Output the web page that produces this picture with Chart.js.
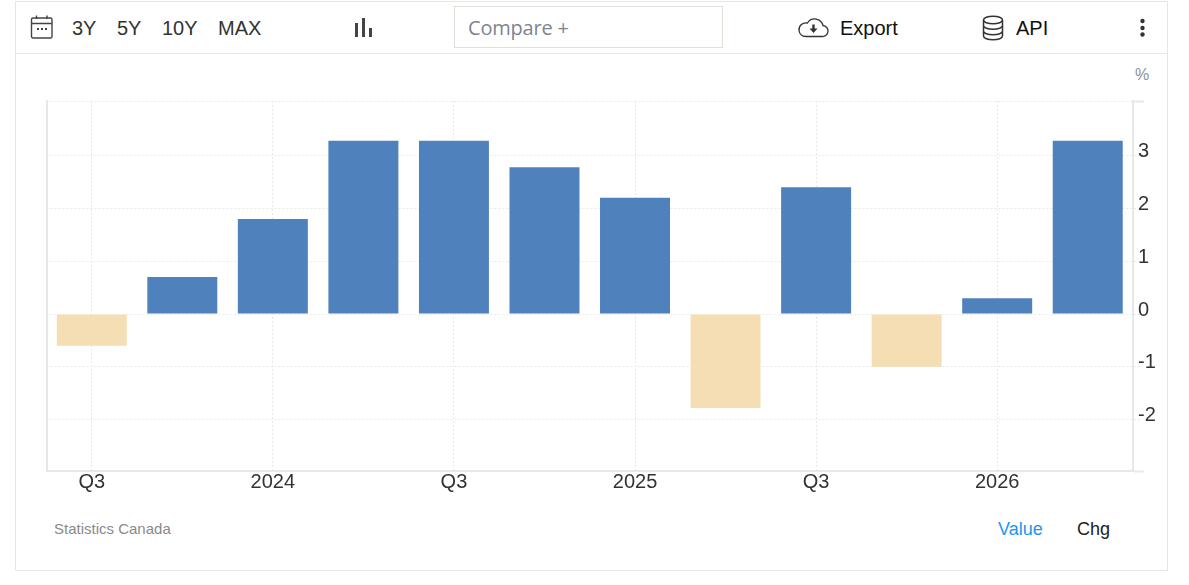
<!DOCTYPE html>
<html><head><meta charset="utf-8">
<style>
html,body{margin:0;padding:0;background:#fff;width:1189px;height:585px;overflow:hidden;font-family:"Liberation Sans",Arial,sans-serif}
#c{position:absolute;left:0;top:0}
.box{position:absolute;left:15px;top:1px;width:1151px;height:568px;border:1px solid #e6e6e6}
.sep{position:absolute;left:16px;top:53px;width:1151px;height:1px;background:#e6e6e6}
.t{position:absolute;white-space:nowrap;line-height:24px;font-size:20px}
.r{color:#333}
.cmp{position:absolute;left:454px;top:6px;width:267px;height:40px;border:1px solid #e0e0d8;}
svg{position:absolute;overflow:visible}
</style></head><body>
<div class="box"></div><div class="sep"></div>
<svg style="left:30px;top:14px" width="24" height="26" viewBox="0 0 24 26" fill="none" stroke="#444" stroke-width="1.4"><rect x="1.5" y="4" width="20.5" height="20" rx="1.5"/><path d="M1.5 9.5H22M6.5 1.5V5M17 1.5V5"/><path d="M7 15h2M11 15h2M15 15h2" stroke-width="2"/></svg>
<span class="t r" style="left:72px;top:16px">3Y</span>
<span class="t r" style="left:117px;top:16px">5Y</span>
<span class="t r" style="left:162px;top:16px">10Y</span>
<span class="t r" style="left:218px;top:16px">MAX</span>
<svg style="left:354px;top:17px" width="19" height="21" viewBox="0 0 19 21" fill="#444"><rect x="1" y="6" width="3" height="14"/><rect x="8" y="1" width="3" height="19"/><rect x="15" y="11" width="3" height="9"/></svg>
<div class="cmp"></div>
<span class="t" style="left:468px;top:16px;font-family:'Open Sans','Noto Sans',sans-serif;color:#7d8590;letter-spacing:-0.2px">Compare +</span>
<svg style="left:798px;top:17px" width="31" height="21" viewBox="0 0 31 21" fill="none" stroke="#333" stroke-width="1.3"><path d="M8 19.5H24a5.5 5.5 0 0 0 1-11A8.5 8.5 0 0 0 9.500 6 7 7 0 0 0 1 13.500C1.500 17 4 19.500 8 19.500Z"/><path d="M15.500 7.500v5" stroke-width="2.400"/><path d="M11.500 11.500h8l-4 4.500z" fill="#333" stroke="none"/></svg>
<span class="t" style="left:840px;top:16px;color:#111">Export</span>
<svg style="left:982px;top:15px" width="22" height="26" viewBox="0 0 22 26" fill="none" stroke="#333" stroke-width="1.5"><ellipse cx="11" cy="5" rx="9.500" ry="3.800"/><path d="M1.500 5V21c0 2.200 4.300 3.800 9.500 3.800s9.500-1.600 9.500-3.800V5M1.500 10.500c0 2.200 4.300 3.800 9.500 3.800s9.500-1.600 9.500-3.800M1.500 16c0 2.200 4.300 3.800 9.500 3.800s9.500-1.600 9.500-3.800"/></svg>
<span class="t" style="left:1016px;top:16px;color:#111">API</span>
<svg style="left:1139px;top:18px" width="7" height="19" viewBox="0 0 7 19" fill="#333"><circle cx="3.500" cy="3" r="2.200"/><circle cx="3.500" cy="10" r="2.200"/><circle cx="3.500" cy="16.500" r="2.200"/></svg>
<span class="t" style="left:1135px;top:63px;font-size:16px;color:#8a8f96">%</span>
<span class="t" style="left:54px;top:517px;font-size:15px;color:#8a8a8a">Statistics Canada</span>
<span class="t" style="left:998px;top:517px;font-size:18px;color:#2196f3">Value</span>
<span class="t" style="left:1077px;top:517px;font-size:18px;color:#222">Chg</span>
<canvas id="c" width="1189" height="585" style="width:1189px;height:585px"></canvas>
<script src="https://cdn.jsdelivr.net/npm/chart.js@4/dist/chart.umd.min.js"></script>
<script>
const categories=['Q3','Q4','2024','Q2','Q3','Q4','2025','Q2','Q3','Q4','2026','Q2'];
const values=[-0.6,0.7,1.8,3.28,3.28,2.78,2.2,-1.78,2.4,-1.0,0.3,3.28];
const yTicks=[-2.973,-2,-1,0,1,2,3,4.034];
const POS='#4f81bd',NEG='#f5deb3',GRID='#e8e8e8',AXIS='#e8e8e8',TXT='#333';
const isBound=v=>v===yTicks[0]||v===yTicks[yTicks.length-1];
const shift={id:'shift',beforeDraw(ch){const s=ch.scales.y,it=s.getLabelItems(ch.chartArea);
  if(!it._s){it.forEach(i=>i.options.translation[1]-=4);it._s=1;}}};
new Chart(document.getElementById('c'),{
 type:'bar',
 data:{labels:categories,datasets:[{data:values,backgroundColor:c=>c.raw<0?NEG:POS,barPercentage:0.773,categoryPercentage:1,yAxisID:'y'}]},
 plugins:[shift],
 options:{responsive:false,animation:false,devicePixelRatio:1,
  layout:{padding:{left:46.5,top:101,right:0,bottom:0}},
  plugins:{legend:{display:false},tooltip:{enabled:false},title:{display:false}},
  scales:{
   x:{offset:true,
     grid:{offset:false,color:GRID,lineWidth:1,drawTicks:false},
     border:{display:true,color:AXIS,width:2,dash:[2,2]},
     ticks:{autoSkip:false,maxRotation:0,padding:-1,color:TXT,font:{family:'"Liberation Sans",Arial,sans-serif',size:20},
       callback(v,i){return i%2?null:categories[i];}},
     afterFit(s){s.height=114;}},
   y:{position:'right',min:yTicks[0],max:yTicks[yTicks.length-1],
     afterBuildTicks(s){s.ticks=yTicks.map(v=>({value:v}));},
     afterFit(s){s.width=56;},
     grid:{color:GRID,lineWidth:1,tickLength:11,
       tickColor:GRID,tickWidth:c=>isBound(c.tick.value)?2:1,
       tickBorderDash:c=>isBound(c.tick.value)?[]:[2,2,2,100]},
     border:{display:true,color:AXIS,width:2,dash:[2,2]},
     ticks:{padding:-6,color:TXT,font:{family:'"Liberation Sans",Arial,sans-serif',size:20},
       callback(v){return isBound(v)?'':String(v);}}},
   yL:{position:'left',min:yTicks[0],max:yTicks[yTicks.length-1],
     afterFit(s){s.width=0;},
     grid:{display:false,drawTicks:false},border:{display:true,color:AXIS,width:2},
     ticks:{display:false}}
  }}});
</script>
</body></html>
